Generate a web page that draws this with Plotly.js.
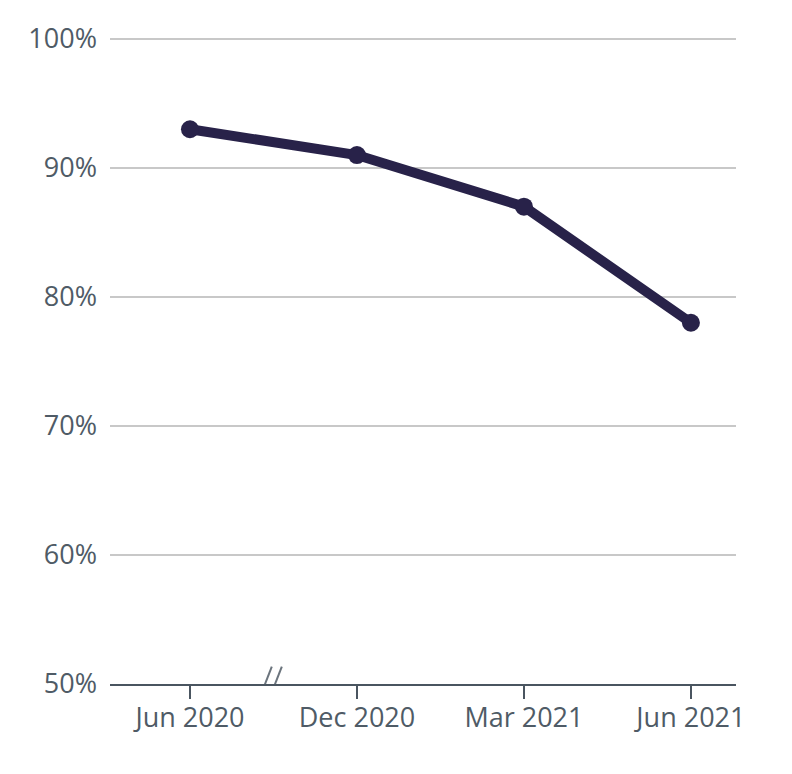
<!DOCTYPE html>
<html>
<head>
<meta charset="utf-8">
<script src="https://cdn.plot.ly/plotly-3.0.1.min.js"></script>
<style>html,body{margin:0;padding:0;background:#fff;}#chart{width:792px;height:774px;}</style>
</head>
<body>
<div id="chart"></div>
<script>
const categories = ["Jun 2020", "Dec 2020", "Mar 2021", "Jun 2021"];
const values = [0.93, 0.91, 0.87, 0.78];
const yTickVals = [0.5, 0.6, 0.7, 0.8, 0.9, 1.0];
const yTickText = ["50%", "60%", "70%", "80%", "90%", "100%"];

const trace = {
  x: [0, 1, 2, 3],
  y: values,
  type: 'scatter',
  mode: 'lines+markers',
  line: {color: '#282249', width: 10},
  marker: {color: '#282249', size: 18},
  hoverinfo: 'skip'
};

const font = {family: '"Open Sans", sans-serif', size: 27, color: '#4f5b66'};

const layout = {
  width: 792, height: 774,
  margin: {l: 110, r: 56, t: 37, b: 90},
  paper_bgcolor: '#fff', plot_bgcolor: '#fff',
  showlegend: false,
  font: font,
  xaxis: {
    range: [-0.479, 3.27],
    tickvals: [0, 1, 2, 3],
    ticktext: categories,
    showgrid: false, zeroline: false,
    showline: true, linecolor: '#4a5560', linewidth: 2,
    ticks: 'outside', ticklen: 13, tickwidth: 2, tickcolor: '#4a5560',
    ticklabelstandoff: -4,
    tickfont: font, fixedrange: true
  },
  yaxis: {
    range: [0.5, 1.0015],
    tickvals: yTickVals,
    ticktext: yTickText,
    showgrid: true, gridcolor: '#c8c8c8', gridwidth: 1.5,
    zeroline: false, showline: false,
    ticks: '', ticklabelstandoff: 12,
    tickfont: font, fixedrange: true
  },
  shapes: [
    {type: 'line', xref: 'x', yref: 'y', x0: 0.43, x1: 0.49, y0: 0.4935, y1: 0.5135, line: {color: '#6b747d', width: 2}},
    {type: 'line', xref: 'x', yref: 'y', x0: 0.49, x1: 0.55, y0: 0.4935, y1: 0.5135, line: {color: '#6b747d', width: 2}}
  ]
};

Plotly.newPlot('chart', [trace], layout, {displayModeBar: false, staticPlot: true});
</script>
</body>
</html>
